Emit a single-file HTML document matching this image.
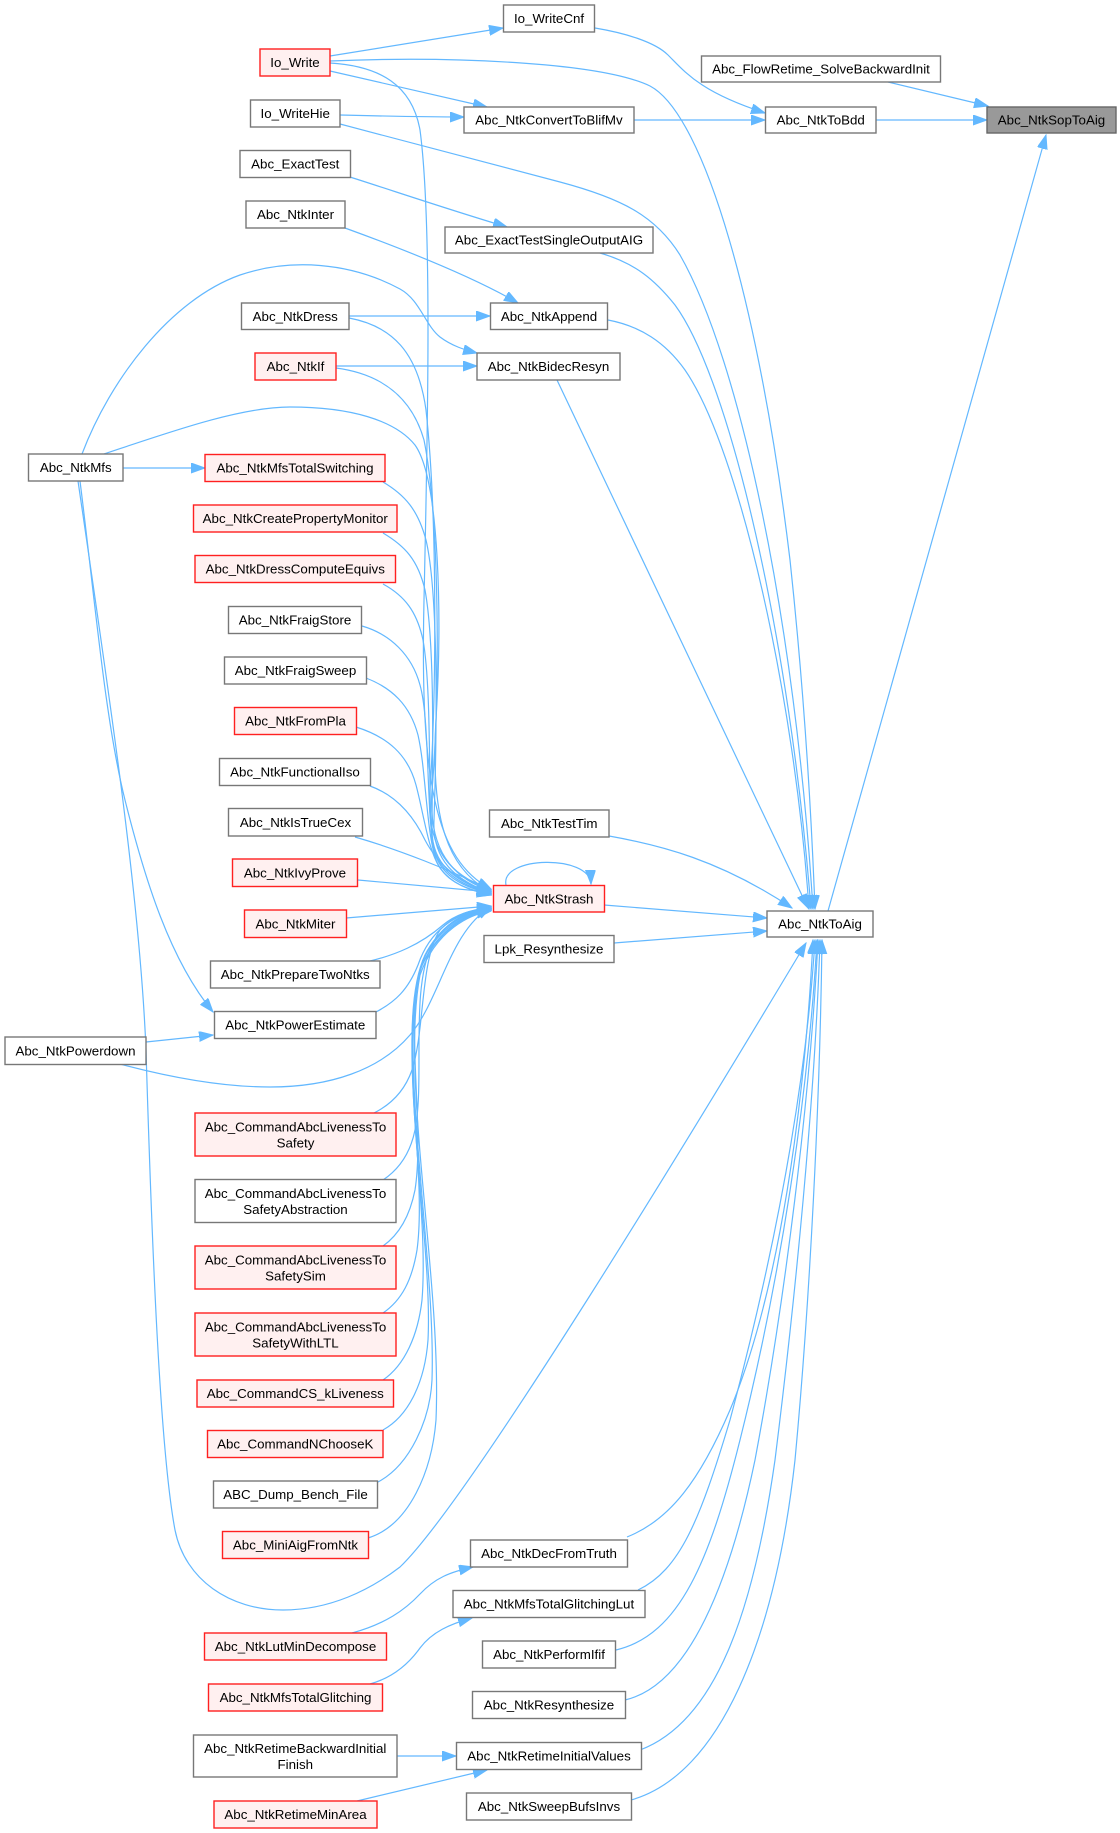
<!DOCTYPE html>
<html><head><meta charset="utf-8"><style>
html,body{margin:0;padding:0;background:#fff}
svg{display:block}
text{font-family:"Liberation Sans",Arial,sans-serif;font-size:13.33px;fill:#000;text-anchor:middle}
.e{fill:none;stroke:#63b8ff;stroke-width:1.2}
.n{fill:#fff;stroke:#777;stroke-width:1.4}
.r{fill:#fff0f0;stroke:#ff2020;stroke-width:1.4}
</style></head><body>
<svg width="1120" height="1833" viewBox="0 0 1120 1833" xmlns="http://www.w3.org/2000/svg">
<defs>
<marker id="a" markerWidth="15" markerHeight="11" refX="14" refY="5" orient="auto" markerUnits="userSpaceOnUse">
<path d="M0,0 L14,5 L0,10 z" fill="#63b8ff" stroke="#63b8ff" stroke-width="1"/>
</marker>
</defs>

<!-- edges top -->
<path class="e" marker-end="url(#a)" d="M330,56 L503,28"/>
<path class="e" marker-end="url(#a)" d="M330,71 L487,107"/>
<path class="e" marker-end="url(#a)" d="M340,115 C 380,116 420,117 464,117"/>
<path class="e" marker-end="url(#a)" d="M634,120 L765,120"/>
<path class="e" marker-end="url(#a)" d="M595,28 C 625,33 655,42 668,55 C 685,72 700,92 765,113"/>
<path class="e" marker-end="url(#a)" d="M888,82 L988,106"/>
<path class="e" marker-end="url(#a)" d="M876,120 L987,120"/>
<path class="e" marker-end="url(#a)" d="M828,911 L1046,135"/>
<path class="e" marker-end="url(#a)" d="M350,177 C 400,193 450,210 507,227"/>
<path class="e" marker-end="url(#a)" d="M345,228 C 400,248 470,275 518,303"/>
<path class="e" marker-end="url(#a)" d="M349,316 L490,316"/>
<path class="e" marker-end="url(#a)" d="M336,366 L477,366"/>
<path class="e" marker-end="url(#a)" d="M123,468 L205,468"/>
<path class="e" marker-end="url(#a)" d="M82,454 C 110,380 170,300 240,275 C 290,258 350,262 400,289 C 420,300 425,325 440,337 C 452,346 465,350 477,353"/>

<!-- edges to ToAig from above -->
<path class="e" marker-end="url(#a)" d="M330,61 C 450,56 600,62 650,86 C 705,115 760,310 790,560 C 805,700 812,830 815,909"/>
<path class="e" marker-end="url(#a)" d="M340,124 L560,182 C 620,198 655,215 680,255 C 740,360 795,620 813,909"/>
<path class="e" marker-end="url(#a)" d="M600,253 C 635,263 655,280 675,305 C 730,380 790,640 811,909"/>
<path class="e" marker-end="url(#a)" d="M608,320 C 640,326 665,342 685,370 C 740,450 795,700 809,909"/>
<path class="e" marker-end="url(#a)" d="M557,380 L808,908"/>
<path class="e" marker-end="url(#a)" d="M609,836 C 660,845 720,860 792,908"/>
<path class="e" marker-end="url(#a)" d="M604,905 L767,918"/>
<path class="e" marker-end="url(#a)" d="M614,943 L767,931"/>

<!-- edges to Strash -->
<path class="e" marker-end="url(#a)" d="M330,63 C 380,66 412,85 420,130 C 432,220 428,420 424,600 C 420,780 435,860 491,889"/>
<path class="e" marker-end="url(#a)" d="M349,318 C 392,326 418,352 426,410 C 438,520 436,700 430,790 C 426,850 450,875 491,890"/>
<path class="e" marker-end="url(#a)" d="M336,368 C 382,374 412,398 424,440 C 440,520 440,700 432,790 C 428,850 452,878 491,891"/>
<path class="e" marker-end="url(#a)" d="M104,454 C 170,432 240,407 290,407 C 350,407 395,420 415,445 C 440,480 442,620 436,720 C 430,820 448,870 491,892"/>
<path class="e" marker-end="url(#a)" d="M383,482 C 405,495 418,510 426,540 C 440,600 436,760 434,820 C 432,860 455,880 491,893"/>
<path class="e" marker-end="url(#a)" d="M383,533 C 405,546 418,560 425,590 C 436,650 432,780 432,830 C 432,865 456,882 491,893"/>
<path class="e" marker-end="url(#a)" d="M383,584 C 405,596 417,612 423,640 C 432,690 428,800 432,840 C 436,870 458,884 491,894"/>
<path class="e" marker-end="url(#a)" d="M362,626 C 390,634 412,655 420,685 C 430,720 426,810 434,850 C 440,875 460,886 491,894"/>
<path class="e" marker-end="url(#a)" d="M366,678 C 392,688 410,705 418,735 C 426,770 426,830 436,860 C 444,880 462,888 491,895"/>
<path class="e" marker-end="url(#a)" d="M356,727 C 388,737 408,755 416,785 C 424,815 428,850 440,868 C 452,884 468,890 491,895"/>
<path class="e" marker-end="url(#a)" d="M370,786 C 395,795 413,815 425,840 C 438,865 460,882 491,895"/>
<path class="e" marker-end="url(#a)" d="M355,837 C 400,850 450,870 491,890"/>
<path class="e" marker-end="url(#a)" d="M358,880 L491,892"/>
<path class="e" marker-end="url(#a)" d="M346,918 L491,906"/>
<path class="e" marker-end="url(#a)" d="M370,961 C 395,955 420,945 443,925 C 455,915 470,910 491,907"/>
<path class="e" marker-end="url(#a)" d="M376,1012 C 395,1002 408,990 418,965 C 430,930 455,912 491,908"/>
<path class="e" marker-end="url(#a)" d="M120,1064 C 180,1080 230,1087 270,1087 C 330,1087 380,1070 410,1035 C 440,1000 450,930 491,907"/>
<path class="e" marker-end="url(#a)" d="M374,1113 C 392,1104 405,1090 412,1070 C 425,1030 420,960 440,930 C 455,914 470,910 491,908"/>
<path class="e" marker-end="url(#a)" d="M383,1180 C 398,1170 410,1155 415,1130 C 425,1080 410,990 432,945 C 448,918 470,911 491,908"/>
<path class="e" marker-end="url(#a)" d="M383,1246 C 400,1234 410,1215 415,1190 C 426,1120 400,1000 428,950 C 445,920 470,911 491,909"/>
<path class="e" marker-end="url(#a)" d="M383,1313 C 402,1300 412,1280 417,1250 C 428,1170 395,1020 425,955 C 442,922 470,912 491,909"/>
<path class="e" marker-end="url(#a)" d="M383,1380 C 405,1365 418,1335 422,1300 C 430,1200 395,1040 423,960 C 440,925 470,912 491,910"/>
<path class="e" marker-end="url(#a)" d="M383,1430 C 410,1415 425,1380 428,1340 C 433,1240 395,1050 422,965 C 440,926 470,913 491,910"/>
<path class="e" marker-end="url(#a)" d="M378,1482 C 410,1465 430,1420 432,1380 C 436,1260 398,1060 420,970 C 438,928 470,913 491,910"/>
<path class="e" marker-end="url(#a)" d="M368,1538 C 410,1525 432,1470 436,1420 C 442,1280 400,1080 420,975 C 436,930 470,914 491,911"/>
<!-- self loop -->
<path class="e" marker-end="url(#a)" d="M506,885 C 500,856 590,854 591,884"/>

<!-- Mfs / Powerdown -->
<path class="e" marker-end="url(#a)" d="M80,481 C 95,600 105,720 125,800 C 145,880 170,960 213,1012"/>
<path class="e" marker-end="url(#a)" d="M146,1042 L213,1035"/>
<path class="e" marker-end="url(#a)" d="M78,481 C 110,700 140,900 146,1050 C 152,1250 160,1450 175,1530 C 185,1580 230,1610 283,1610 C 330,1610 370,1590 400,1567 C 470,1500 700,1120 806,943"/>

<!-- bottom group -->
<path class="e" marker-end="url(#a)" d="M352,1633 C 385,1624 405,1610 420,1594 C 435,1578 450,1572 473,1567"/>
<path class="e" marker-end="url(#a)" d="M370,1684 C 395,1677 410,1662 420,1648 C 432,1632 450,1624 472,1618"/>
<path class="e" marker-end="url(#a)" d="M397,1756 L456,1756"/>
<path class="e" marker-end="url(#a)" d="M357,1801 L487,1770"/>
<path class="e" marker-end="url(#a)" d="M627,1537 C 670,1520 700,1480 730,1410 C 780,1290 805,1100 813,940"/>
<path class="e" marker-end="url(#a)" d="M638,1590 C 680,1570 700,1520 730,1420 C 770,1270 805,1100 815,940"/>
<path class="e" marker-end="url(#a)" d="M616,1650 C 680,1635 710,1560 740,1440 C 780,1280 808,1100 817,940"/>
<path class="e" marker-end="url(#a)" d="M625,1700 C 690,1685 730,1580 755,1460 C 785,1300 810,1100 818,940"/>
<path class="e" marker-end="url(#a)" d="M640,1750 C 720,1720 755,1600 775,1460 C 795,1300 815,1100 820,940"/>
<path class="e" marker-end="url(#a)" d="M631,1800 C 720,1775 775,1640 795,1460 C 810,1300 820,1100 822,940"/>

<!-- nodes -->
<rect x="987" y="107" width="129" height="26" fill="#999" stroke="#666" stroke-width="1.4"/><text x="1051.5" y="124.7">Abc_NtkSopToAig</text>
<rect class="n" x="701.5" y="56" width="239" height="26"/><text x="821" y="73.7">Abc_FlowRetime_SolveBackwardInit</text>
<rect class="n" x="765.5" y="107" width="110.5" height="26"/><text x="820.75" y="124.7">Abc_NtkToBdd</text>
<rect class="n" x="767" y="911" width="106" height="26"/><text x="820" y="928.7">Abc_NtkToAig</text>
<rect class="n" x="503.5" y="5" width="91" height="27"/><text x="549" y="23.2">Io_WriteCnf</text>
<rect class="r" x="260" y="49" width="70" height="27"/><text x="295" y="67.2">Io_Write</text>
<rect class="n" x="464" y="107" width="170" height="26"/><text x="549" y="124.7">Abc_NtkConvertToBlifMv</text>
<rect class="n" x="250.5" y="100" width="89.5" height="27"/><text x="295.25" y="118.2">Io_WriteHie</text>
<rect class="n" x="240" y="150.5" width="110.5" height="27"/><text x="295.25" y="168.7">Abc_ExactTest</text>
<rect class="n" x="445" y="227" width="208" height="26"/><text x="549" y="244.7">Abc_ExactTestSingleOutputAIG</text>
<rect class="n" x="246" y="201" width="99" height="27"/><text x="295.5" y="219.2">Abc_NtkInter</text>
<rect class="n" x="490.5" y="303" width="117" height="26.5"/><text x="549" y="321">Abc_NtkAppend</text>
<rect class="n" x="241.5" y="303" width="107.5" height="26.5"/><text x="295.25" y="321">Abc_NtkDress</text>
<rect class="n" x="477" y="353" width="143" height="27"/><text x="548.5" y="371.2">Abc_NtkBidecResyn</text>
<rect class="r" x="255" y="353" width="81" height="27"/><text x="295.5" y="371.2">Abc_NtkIf</text>
<rect class="n" x="28.5" y="454" width="94.5" height="27"/><text x="75.75" y="472.2">Abc_NtkMfs</text>
<rect class="r" x="205" y="454.5" width="180" height="27"/><text x="295" y="472.7">Abc_NtkMfsTotalSwitching</text>
<rect class="r" x="193.5" y="505" width="203.5" height="27"/><text x="295.25" y="523.2">Abc_NtkCreatePropertyMonitor</text>
<rect class="r" x="195" y="555.5" width="200.5" height="27"/><text x="295.25" y="573.7">Abc_NtkDressComputeEquivs</text>
<rect class="n" x="228.5" y="606.5" width="133" height="27"/><text x="295" y="624.7">Abc_NtkFraigStore</text>
<rect class="n" x="224.5" y="657" width="142" height="27"/><text x="295.5" y="675.2">Abc_NtkFraigSweep</text>
<rect class="r" x="234.5" y="707.5" width="122" height="27"/><text x="295.5" y="725.7">Abc_NtkFromPla</text>
<rect class="n" x="219.5" y="758.5" width="151" height="27"/><text x="295" y="776.7">Abc_NtkFunctionalIso</text>
<rect class="n" x="228.5" y="808.5" width="134" height="27.5"/><text x="295.5" y="827">Abc_NtkIsTrueCex</text>
<rect class="r" x="232.5" y="859" width="125" height="27.5"/><text x="295" y="877.5">Abc_NtkIvyProve</text>
<rect class="r" x="244.5" y="910" width="102" height="27.5"/><text x="295.5" y="928.5">Abc_NtkMiter</text>
<rect class="n" x="210.5" y="961" width="169.5" height="27"/><text x="295.25" y="979.2">Abc_NtkPrepareTwoNtks</text>
<rect class="n" x="214.5" y="1011.5" width="161.5" height="27"/><text x="295.25" y="1029.7">Abc_NtkPowerEstimate</text>
<rect class="n" x="5" y="1037" width="141" height="27.5"/><text x="75.5" y="1055.5">Abc_NtkPowerdown</text>
<rect class="r" x="195" y="1113" width="201" height="43"/><text x="295.5" y="1131.4">Abc_CommandAbcLivenessTo</text><text x="295.5" y="1147.4">Safety</text>
<rect class="n" x="195" y="1179.5" width="201" height="43"/><text x="295.5" y="1197.9">Abc_CommandAbcLivenessTo</text><text x="295.5" y="1213.9">SafetyAbstraction</text>
<rect class="r" x="195" y="1246" width="201" height="43"/><text x="295.5" y="1264.4">Abc_CommandAbcLivenessTo</text><text x="295.5" y="1280.4">SafetySim</text>
<rect class="r" x="195" y="1313" width="201" height="43"/><text x="295.5" y="1331.4">Abc_CommandAbcLivenessTo</text><text x="295.5" y="1347.4">SafetyWithLTL</text>
<rect class="r" x="197" y="1380" width="196.5" height="27"/><text x="295.25" y="1398.2">Abc_CommandCS_kLiveness</text>
<rect class="r" x="207.5" y="1430.5" width="175.5" height="27"/><text x="295.25" y="1448.7">Abc_CommandNChooseK</text>
<rect class="n" x="213.5" y="1481" width="164" height="27"/><text x="295.5" y="1499.2">ABC_Dump_Bench_File</text>
<rect class="r" x="222.5" y="1531.5" width="146" height="27"/><text x="295.5" y="1549.7">Abc_MiniAigFromNtk</text>
<rect class="n" x="489.5" y="810" width="119.5" height="27"/><text x="549.25" y="828.2">Abc_NtkTestTim</text>
<rect class="r" x="493.5" y="885.5" width="111" height="26.5"/><text x="549" y="903.4">Abc_NtkStrash</text>
<rect class="n" x="484" y="935.5" width="130" height="27"/><text x="549" y="953.7">Lpk_Resynthesize</text>
<rect class="n" x="470.5" y="1540" width="157" height="27"/><text x="549" y="1558.2">Abc_NtkDecFromTruth</text>
<rect class="n" x="453" y="1590.5" width="192" height="27"/><text x="549" y="1608.7">Abc_NtkMfsTotalGlitchingLut</text>
<rect class="n" x="482.5" y="1641" width="133" height="27"/><text x="549" y="1659.2">Abc_NtkPerformIfif</text>
<rect class="n" x="472.5" y="1691.5" width="153" height="27"/><text x="549" y="1709.7">Abc_NtkResynthesize</text>
<rect class="n" x="456.5" y="1742.5" width="185" height="27"/><text x="549" y="1760.7">Abc_NtkRetimeInitialValues</text>
<rect class="n" x="466.5" y="1793" width="165" height="27"/><text x="549" y="1811.2">Abc_NtkSweepBufsInvs</text>
<rect class="r" x="204.5" y="1633" width="182" height="27"/><text x="295.5" y="1651.2">Abc_NtkLutMinDecompose</text>
<rect class="r" x="208.5" y="1684" width="174" height="27"/><text x="295.5" y="1702.2">Abc_NtkMfsTotalGlitching</text>
<rect class="n" x="193.5" y="1735" width="203.5" height="42"/><text x="295.25" y="1753.2">Abc_NtkRetimeBackwardInitial</text><text x="295.25" y="1769">Finish</text>
<rect class="r" x="214" y="1801" width="163" height="27"/><text x="295.5" y="1819.2">Abc_NtkRetimeMinArea</text>
</svg>
</body></html>
